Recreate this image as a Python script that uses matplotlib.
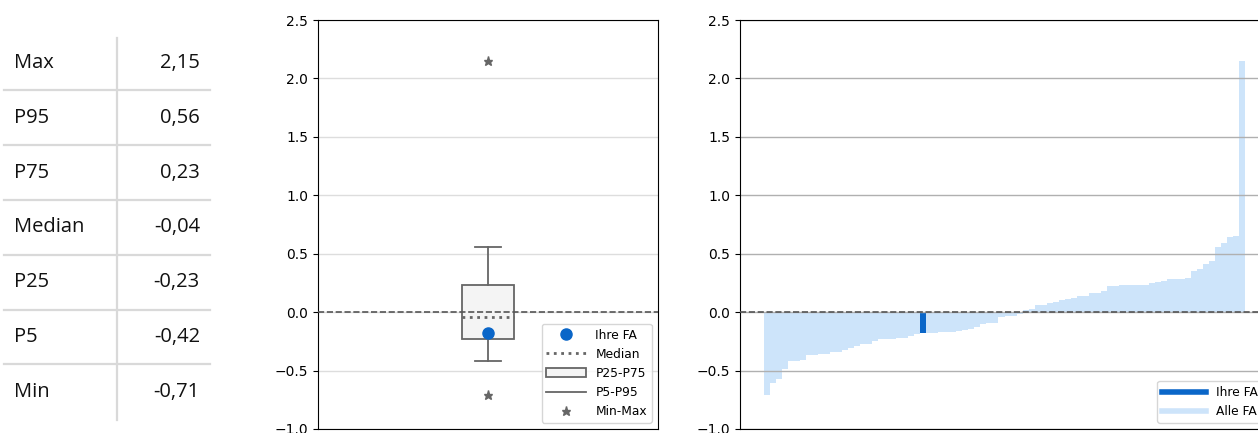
import matplotlib.pyplot as plt
from matplotlib.lines import Line2D
from matplotlib.patches import Patch
import numpy as np

# Kennzahlen (Tabelle links)
table_labels = ['Max', 'P95', 'P75', 'Median', 'P25', 'P5', 'Min']
table_values = [2.15, 0.56, 0.23, -0.04, -0.23, -0.42, -0.71]

# eigener Wert
ihre_fa = -0.18
ihre_idx = 26

# alle FA, sortiert
alle_fa = [-0.71, -0.61, -0.57, -0.49, -0.42, -0.42, -0.41, -0.37, -0.37, -0.36,
           -0.36, -0.34, -0.34, -0.32, -0.31, -0.29, -0.27, -0.27, -0.25, -0.23,
           -0.23, -0.23, -0.22, -0.22, -0.20, -0.19, -0.18, -0.18, -0.18, -0.17,
           -0.17, -0.17, -0.165, -0.155, -0.14, -0.13, -0.105, -0.09, -0.09, -0.045,
           -0.035, -0.035, -0.02, 0.017, 0.026, 0.065, 0.065, 0.075, 0.09, 0.10,
           0.11, 0.125, 0.14, 0.14, 0.16, 0.16, 0.185, 0.22, 0.22, 0.23,
           0.23, 0.23, 0.23, 0.23, 0.25, 0.26, 0.27, 0.28, 0.28, 0.28,
           0.295, 0.35, 0.37, 0.415, 0.435, 0.56, 0.595, 0.645, 0.655, 2.15]

GREY = '#666666'
BLUE = '#0a66c8'
LIGHT = '#cde4fa'
W, H = 1258, 433

fig = plt.figure(figsize=(W / 100, H / 100), dpi=100)

# --- Tabelle ---
axt = fig.add_axes([0, 0, 230 / W, 1])
axt.axis('off')
axt.set_xlim(0, 230)
axt.set_ylim(6.75, -1.15)
for i, (lab, val) in enumerate(zip(table_labels, table_values)):
    axt.text(14, i, lab, ha='left', va='center', fontsize=14.5,
             family='Open Sans', color='#111111')
    axt.text(200, i, f'{val:.2f}'.replace('.', ','), ha='right', va='center',
             fontsize=14.5, family='Open Sans', color='#111111')
    if i < len(table_labels) - 1:
        axt.plot([4, 210], [i + 0.5, i + 0.5], color='#d9d9d9', lw=1.6)
axt.plot([117, 117], [-0.46, 6.51], color='#d9d9d9', lw=1.6)

yticks = np.arange(-1.0, 2.51, 0.5)

# --- Boxplot ---
ax1 = fig.add_axes([318 / W, 4 / H, 340 / W, 409 / H])
stats = [{'med': table_values[3], 'q1': table_values[4], 'q3': table_values[2],
          'whislo': table_values[5], 'whishi': table_values[1], 'fliers': []}]
ax1.bxp(stats, positions=[1], widths=0.155, patch_artist=True, showfliers=False,
        boxprops=dict(facecolor='#f4f4f4', edgecolor=GREY, lw=1.3),
        medianprops=dict(color=GREY, ls=':', lw=2),
        whiskerprops=dict(color=GREY, lw=1.3),
        capprops=dict(color=GREY, lw=1.3))
ax1.plot([1, 1], [table_values[6], table_values[0]], ls='none', marker='*',
         color=GREY, ms=6.5, zorder=4)
ax1.plot([1], [ihre_fa], 'o', color=BLUE, ms=8, zorder=5)
ax1.axhline(0, ls='--', color='#555555', lw=1.2, zorder=3)
ax1.set_xlim(0.5, 1.5)
ax1.set_ylim(-1.0, 2.5)
ax1.set_yticks(yticks)
ax1.set_xticks([])
ax1.yaxis.grid(True, color='#dddddd', lw=1)
ax1.set_axisbelow(True)
h1 = [Line2D([], [], ls='none', marker='o', color=BLUE, ms=8),
      Line2D([], [], ls=':', color=GREY, lw=2),
      Patch(facecolor='#f4f4f4', edgecolor=GREY, lw=1.3),
      Line2D([], [], color=GREY, lw=1.3),
      Line2D([], [], ls='none', marker='*', color=GREY, ms=6.5)]
ax1.legend(h1, ['Ihre FA', 'Median', 'P25-P75', 'P5-P95', 'Min-Max'],
           loc='lower right', fontsize=8.8, handlelength=3.2)

# --- Balken ---
ax2 = fig.add_axes([740 / W, 4 / H, 529 / W, 409 / H])
x = np.arange(len(alle_fa))
colors = [BLUE if i == ihre_idx else LIGHT for i in x]
ax2.bar(x, alle_fa, width=1.0, color=colors)
ax2.axhline(0, ls='--', color='#555555', lw=1.2, zorder=3)
ax2.set_ylim(-1.0, 2.5)
ax2.set_yticks(yticks)
ax2.set_xticks([])
ax2.yaxis.grid(True, color='#b0b0b0', lw=1)
h2 = [Line2D([], [], color=BLUE, lw=4), Line2D([], [], color=LIGHT, lw=4)]
ax2.legend(h2, ['Ihre FA', 'Alle FA'], loc='lower right', fontsize=8.8,
           handlelength=3.6)

plt.savefig('out.png', dpi=100)
